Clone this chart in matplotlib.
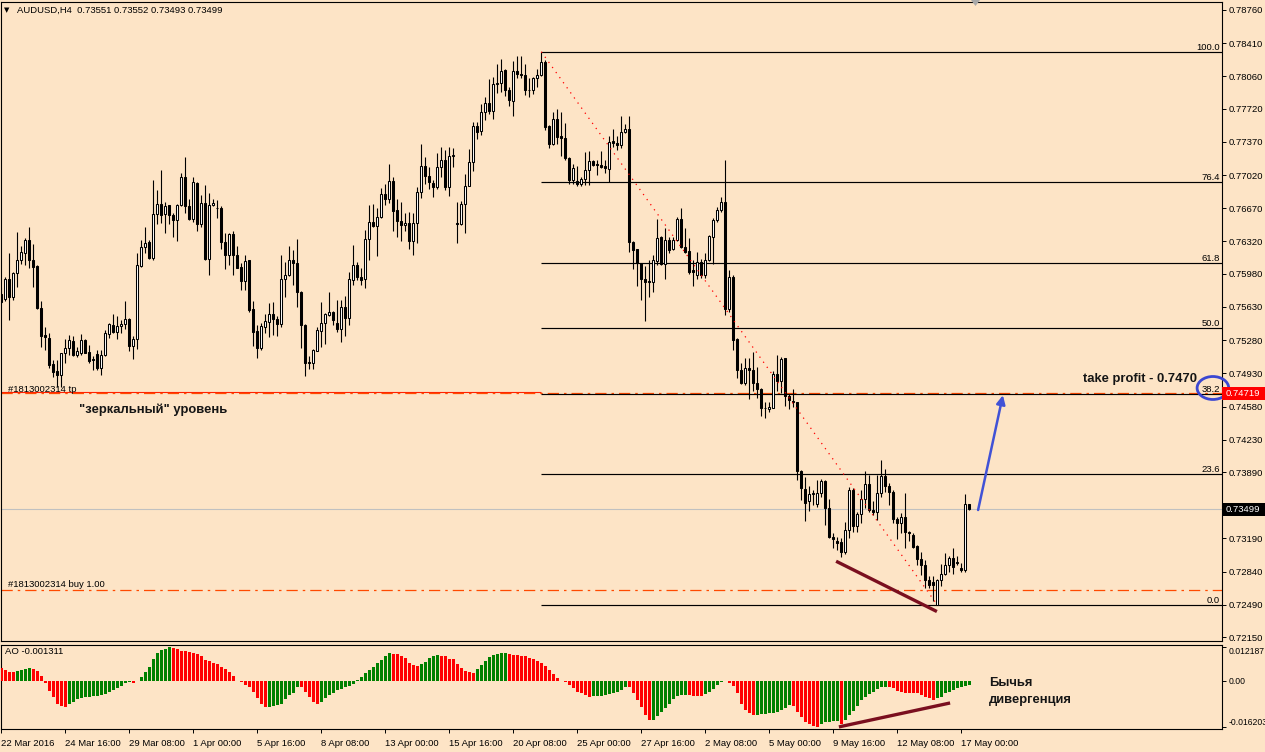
import matplotlib
matplotlib.use("Agg")
import matplotlib.pyplot as plt
import matplotlib.transforms as mtrans
from matplotlib.patches import Rectangle, Ellipse, Polygon
import numpy as np

plt.rcParams['font.family'] = ['Liberation Sans', 'DejaVu Sans']

# ------------------------------------------------------------------ data
opens = [
0.7577, 0.7571, 0.7592, 0.7573, 0.7599, 0.7612, 0.7620, 0.7634, 0.7613, 0.7606,
0.7562, 0.7533, 0.7530, 0.7503, 0.7495, 0.7491, 0.7514, 0.7520, 0.7527, 0.7512,
0.7515, 0.7528, 0.7516, 0.7508, 0.7513, 0.7499, 0.7512, 0.7535, 0.7544, 0.7537,
0.7543, 0.7545, 0.7550, 0.7522, 0.7529, 0.7606, 0.7626, 0.7631, 0.7615, 0.7661,
0.7671, 0.7661, 0.7670, 0.7660, 0.7655, 0.7670, 0.7700, 0.7669, 0.7656, 0.7694,
0.7650, 0.7673, 0.7614, 0.7670, 0.7667, 0.7667, 0.7631, 0.7618, 0.7640, 0.7618,
0.7605, 0.7590, 0.7612, 0.7561, 0.7538, 0.7520, 0.7542, 0.7547, 0.7556, 0.7550,
0.7545, 0.7593, 0.7597, 0.7613, 0.7609, 0.7579, 0.7544, 0.7505, 0.7504, 0.7517,
0.7538, 0.7546, 0.7555, 0.7558, 0.7546, 0.7540, 0.7563, 0.7551, 0.7591, 0.7607,
0.7595, 0.7592, 0.7635, 0.7653, 0.7648, 0.7658, 0.7682, 0.7677, 0.7696, 0.7665,
0.7654, 0.7649, 0.7651, 0.7632, 0.7651, 0.7684, 0.7712, 0.7701, 0.7694, 0.7689,
0.7710, 0.7718, 0.7689, 0.7722, 0.7651, 0.7650, 0.7672, 0.7691, 0.7716, 0.7754,
0.7748, 0.7768, 0.7778, 0.7770, 0.7798, 0.7799, 0.7813, 0.7792, 0.7780, 0.7812,
0.7809, 0.7808, 0.7792, 0.7792, 0.7804, 0.7807, 0.7821, 0.7754, 0.7735, 0.7761,
0.7743, 0.7741, 0.7720, 0.7697, 0.7696, 0.7693, 0.7698, 0.7707, 0.7717, 0.7714,
0.7713, 0.7712, 0.7708, 0.7738, 0.7736, 0.7734, 0.7747, 0.7751, 0.7631, 0.7624,
0.7609, 0.7593, 0.7590, 0.7589, 0.7611, 0.7637, 0.7608, 0.7634, 0.7624, 0.7634,
0.7656, 0.7626, 0.7622, 0.7602, 0.7597, 0.7610, 0.7597, 0.7612, 0.7637, 0.7655,
0.7665, 0.7674, 0.7561, 0.7595, 0.7529, 0.7497, 0.7483, 0.7499, 0.7497, 0.7483,
0.7477, 0.7457, 0.7455, 0.7457, 0.7492, 0.7485, 0.7509, 0.7469, 0.7464, 0.7463,
0.7390, 0.7371, 0.7358, 0.7366, 0.7355, 0.7367, 0.7380, 0.7351, 0.7321, 0.7316,
0.7315, 0.7305, 0.7328, 0.7370, 0.7332, 0.7345, 0.7361, 0.7376, 0.7349, 0.7347,
0.7367, 0.7385, 0.7374, 0.7368, 0.7340, 0.7335, 0.7342, 0.7326, 0.7323, 0.7311,
0.7297, 0.7291, 0.7275, 0.7273, 0.7249, 0.7275, 0.7282, 0.7291, 0.7298, 0.7294,
0.7288, 0.7286, 0.73551]

highs = [
0.7584, 0.7595, 0.7620, 0.7600, 0.7642, 0.7627, 0.7636, 0.7647, 0.7629, 0.7607,
0.7569, 0.7542, 0.7536, 0.7507, 0.7507, 0.7514, 0.7529, 0.7533, 0.7532, 0.7521,
0.7535, 0.7529, 0.7523, 0.7511, 0.7518, 0.7518, 0.7539, 0.7546, 0.7556, 0.7553,
0.7549, 0.7569, 0.7551, 0.7532, 0.7620, 0.7634, 0.7647, 0.7634, 0.7697, 0.7686,
0.7707, 0.7674, 0.7670, 0.7662, 0.7671, 0.7704, 0.7721, 0.7677, 0.7700, 0.7695,
0.7681, 0.7692, 0.7683, 0.7677, 0.7676, 0.7669, 0.7641, 0.7641, 0.7643, 0.7627,
0.7609, 0.7618, 0.7613, 0.7569, 0.7544, 0.7546, 0.7556, 0.7567, 0.7568, 0.7554,
0.7618, 0.7610, 0.7627, 0.7623, 0.7635, 0.7580, 0.7545, 0.7511, 0.7519, 0.7542,
0.7568, 0.7557, 0.7579, 0.7559, 0.7570, 0.7570, 0.7575, 0.7600, 0.7628, 0.7610,
0.7604, 0.7644, 0.7670, 0.7672, 0.7667, 0.7688, 0.7693, 0.7714, 0.7700, 0.7677,
0.7674, 0.7662, 0.7663, 0.7662, 0.7689, 0.7735, 0.7721, 0.7710, 0.7697, 0.7725,
0.7732, 0.7728, 0.7732, 0.7731, 0.7674, 0.7675, 0.7703, 0.7729, 0.7758, 0.7758,
0.7777, 0.7784, 0.7803, 0.7805, 0.7819, 0.7824, 0.7814, 0.7795, 0.7822, 0.7827,
0.7827, 0.7819, 0.7804, 0.7805, 0.7814, 0.7832, 0.7823, 0.7755, 0.7769, 0.7772,
0.7769, 0.7757, 0.7721, 0.7714, 0.7712, 0.7700, 0.7726, 0.7727, 0.7718, 0.7718,
0.7727, 0.7718, 0.7743, 0.7751, 0.7743, 0.7764, 0.7756, 0.7764, 0.7632, 0.7624,
0.7609, 0.7606, 0.7612, 0.7618, 0.7656, 0.7638, 0.7646, 0.7637, 0.7637, 0.7658,
0.7667, 0.7646, 0.7636, 0.7613, 0.7621, 0.7614, 0.7620, 0.7639, 0.7657, 0.7668,
0.7679, 0.7718, 0.7602, 0.7597, 0.7530, 0.7504, 0.7509, 0.7509, 0.7516, 0.7500,
0.7478, 0.7463, 0.7463, 0.7495, 0.7512, 0.7510, 0.7509, 0.7471, 0.7477, 0.7463,
0.7391, 0.7384, 0.7374, 0.7370, 0.7381, 0.7382, 0.7381, 0.7361, 0.7325, 0.7321,
0.7319, 0.7336, 0.7373, 0.7372, 0.7347, 0.7370, 0.7390, 0.7386, 0.7358, 0.7386,
0.7402, 0.7392, 0.7377, 0.7370, 0.7342, 0.7346, 0.7367, 0.7327, 0.7325, 0.7312,
0.7305, 0.7296, 0.7279, 0.7279, 0.7276, 0.7292, 0.7304, 0.7301, 0.7309, 0.7300,
0.7293, 0.7366, 0.73552]

lows = [
0.7567, 0.7569, 0.7549, 0.7570, 0.7584, 0.7608, 0.7607, 0.7604, 0.7584, 0.7561,
0.7521, 0.7518, 0.7499, 0.7489, 0.7479, 0.7479, 0.7504, 0.7512, 0.7511, 0.7510,
0.7512, 0.7514, 0.7504, 0.7497, 0.7497, 0.7491, 0.7511, 0.7530, 0.7536, 0.7529,
0.7536, 0.7540, 0.7517, 0.7508, 0.7519, 0.7605, 0.7620, 0.7614, 0.7613, 0.7650,
0.7652, 0.7641, 0.7650, 0.7637, 0.7633, 0.7669, 0.7662, 0.7655, 0.7653, 0.7643,
0.7647, 0.7613, 0.7597, 0.7669, 0.7657, 0.7624, 0.7603, 0.7607, 0.7597, 0.7604,
0.7581, 0.7581, 0.7558, 0.7522, 0.7509, 0.7518, 0.7536, 0.7531, 0.7533, 0.7532,
0.7542, 0.7574, 0.7596, 0.7586, 0.7563, 0.7520, 0.7490, 0.7498, 0.7498, 0.7517,
0.7521, 0.7524, 0.7553, 0.7544, 0.7537, 0.7526, 0.7532, 0.7544, 0.7586, 0.7591,
0.7586, 0.7583, 0.7612, 0.7647, 0.7617, 0.7657, 0.7670, 0.7673, 0.7643, 0.7637,
0.7632, 0.7643, 0.7624, 0.7618, 0.7630, 0.7678, 0.7693, 0.7687, 0.7679, 0.7687,
0.7700, 0.7686, 0.7680, 0.7711, 0.7630, 0.7649, 0.7641, 0.7690, 0.7706, 0.7740,
0.7744, 0.7760, 0.7766, 0.7761, 0.7788, 0.7790, 0.7785, 0.7775, 0.7764, 0.7804,
0.7804, 0.7786, 0.7784, 0.7787, 0.7795, 0.7806, 0.7749, 0.7731, 0.7734, 0.7735,
0.7722, 0.7718, 0.7693, 0.7693, 0.7690, 0.7690, 0.7692, 0.7692, 0.7712, 0.7702,
0.7709, 0.7704, 0.7695, 0.7732, 0.7728, 0.7731, 0.7746, 0.7621, 0.7603, 0.7585,
0.7570, 0.7548, 0.7573, 0.7579, 0.7607, 0.7607, 0.7592, 0.7620, 0.7623, 0.7632,
0.7625, 0.7620, 0.7598, 0.7585, 0.7592, 0.7594, 0.7594, 0.7611, 0.7608, 0.7653,
0.7663, 0.7555, 0.7558, 0.7518, 0.7488, 0.7482, 0.7481, 0.7466, 0.7474, 0.7467,
0.7448, 0.7446, 0.7452, 0.7457, 0.7474, 0.7472, 0.7459, 0.7455, 0.7458, 0.7381,
0.7360, 0.7337, 0.7348, 0.7354, 0.7352, 0.7363, 0.7333, 0.7319, 0.7309, 0.7307,
0.7299, 0.7303, 0.7319, 0.7326, 0.7326, 0.7335, 0.7351, 0.7347, 0.7344, 0.7338,
0.7363, 0.7368, 0.7354, 0.7335, 0.7318, 0.7325, 0.7309, 0.7316, 0.7309, 0.7291,
0.7281, 0.7267, 0.7267, 0.7253, 0.7249, 0.7269, 0.7281, 0.7284, 0.7282, 0.7291,
0.7284, 0.7284, 0.73493]

closes = [
0.7568, 0.7592, 0.7573, 0.7599, 0.7612, 0.7621, 0.7634, 0.7613, 0.7605, 0.7562,
0.7532, 0.7531, 0.7502, 0.7494, 0.7491, 0.7514, 0.7520, 0.7528, 0.7512, 0.7517,
0.7528, 0.7515, 0.7506, 0.7507, 0.7499, 0.7512, 0.7536, 0.7545, 0.7537, 0.7543,
0.7545, 0.7550, 0.7522, 0.7529, 0.7607, 0.7626, 0.7630, 0.7615, 0.7661, 0.7671,
0.7660, 0.7669, 0.7660, 0.7655, 0.7670, 0.7700, 0.7669, 0.7656, 0.7695, 0.7650,
0.7673, 0.7614, 0.7670, 0.7673, 0.7667, 0.7631, 0.7618, 0.7640, 0.7618, 0.7604,
0.7590, 0.7611, 0.7560, 0.7537, 0.7520, 0.7543, 0.7548, 0.7556, 0.7550, 0.7545,
0.7592, 0.7597, 0.7613, 0.7609, 0.7579, 0.7544, 0.7504, 0.7504, 0.7518, 0.7539,
0.7546, 0.7556, 0.7558, 0.7549, 0.7540, 0.7563, 0.7551, 0.7592, 0.7607, 0.7595,
0.7591, 0.7635, 0.7653, 0.7648, 0.7658, 0.7682, 0.7677, 0.7696, 0.7664, 0.7654,
0.7649, 0.7651, 0.7632, 0.7651, 0.7684, 0.7712, 0.7701, 0.7695, 0.7689, 0.7710,
0.7718, 0.7689, 0.7722, 0.7723, 0.7650, 0.7672, 0.7691, 0.7716, 0.7754, 0.7747,
0.7768, 0.7778, 0.7770, 0.7798, 0.7799, 0.7812, 0.7792, 0.7781, 0.7812, 0.7809,
0.7808, 0.7792, 0.7792, 0.7804, 0.7807, 0.7821, 0.7753, 0.7735, 0.7761, 0.7742,
0.7741, 0.7720, 0.7697, 0.7709, 0.7693, 0.7698, 0.7707, 0.7717, 0.7713, 0.7713,
0.7711, 0.7709, 0.7737, 0.7736, 0.7734, 0.7747, 0.7751, 0.7631, 0.7623, 0.7609,
0.7592, 0.7589, 0.7589, 0.7612, 0.7636, 0.7608, 0.7634, 0.7623, 0.7634, 0.7656,
0.7626, 0.7621, 0.7600, 0.7600, 0.7610, 0.7597, 0.7612, 0.7638, 0.7655, 0.7665,
0.7674, 0.7561, 0.7595, 0.7528, 0.7497, 0.7483, 0.7499, 0.7497, 0.7483, 0.7477,
0.7457, 0.7456, 0.7458, 0.7492, 0.7485, 0.7508, 0.7469, 0.7465, 0.7463, 0.7390,
0.7372, 0.7356, 0.7366, 0.7367, 0.7367, 0.7380, 0.7351, 0.7321, 0.7318, 0.7314,
0.7305, 0.7328, 0.7370, 0.7332, 0.7345, 0.7361, 0.7376, 0.7349, 0.7347, 0.7367,
0.7385, 0.7374, 0.7368, 0.7340, 0.7335, 0.7342, 0.7326, 0.7325, 0.7310, 0.7297,
0.7291, 0.7275, 0.7270, 0.7270, 0.7275, 0.7282, 0.7291, 0.7298, 0.7289, 0.7293,
0.7286, 0.7355, 0.73499]

ao_values = [
0.0045, 0.0039, 0.0033, 0.0031, 0.0035, 0.0039, 0.0043, 0.0045, 0.0044, 0.0035,
0.0018, -0.0008, -0.0034, -0.0056, -0.0080, -0.0089, -0.0091, -0.0081, -0.0073, -0.0065,
-0.0061, -0.0058, -0.0056, -0.0055, -0.0053, -0.0051, -0.0046, -0.0040, -0.0032, -0.0024,
-0.0017, -0.0008, -0.0004, -0.0006, -0.0001, 0.0015, 0.0031, 0.0048, 0.0078, 0.0100,
0.0110, 0.0114, 0.012187, 0.0118, 0.0112, 0.0107, 0.0106, 0.0104, 0.0100, 0.0096,
0.0088, 0.0075, 0.0070, 0.0063, 0.0060, 0.0051, 0.0041, 0.0031, 0.0019, -0.0001,
-0.0004, -0.0014, -0.0022, -0.0038, -0.0061, -0.0080, -0.0092, -0.0091, -0.0090, -0.0085,
-0.0080, -0.0065, -0.0051, -0.0041, -0.0020, -0.0021, -0.0038, -0.0058, -0.0073, -0.0080,
-0.0076, -0.0061, -0.0049, -0.0041, -0.0032, -0.0028, -0.0023, -0.0018, -0.0011, 0.0003,
0.0015, 0.0030, 0.0039, 0.0051, 0.0063, 0.0075, 0.0087, 0.0098, 0.0097, 0.0096,
0.0088, 0.0080, 0.0065, 0.0056, 0.0055, 0.0060, 0.0067, 0.0080, 0.0087, 0.0092,
0.0090, 0.0087, 0.0078, 0.0077, 0.0060, 0.0045, 0.0035, 0.0031, 0.0027, 0.0042,
0.0056, 0.0072, 0.0084, 0.0091, 0.0096, 0.0098, 0.0099, 0.0096, 0.0094, 0.0092,
0.0088, 0.0087, 0.0080, 0.0078, 0.0072, 0.0065, 0.0053, 0.0039, 0.0024, 0.0009,
0.0001, -0.0005, -0.0014, -0.0026, -0.0038, -0.0044, -0.0049, -0.0056, -0.0055, -0.0053,
-0.0052, -0.0049, -0.0047, -0.0044, -0.0038, -0.0032, -0.0020, -0.0021, -0.0041, -0.0067,
-0.0091, -0.0120, -0.0139, -0.0138, -0.0124, -0.0109, -0.0097, -0.0080, -0.0065, -0.0053,
-0.0050, -0.0049, -0.0050, -0.0052, -0.0053, -0.0054, -0.0047, -0.0038, -0.0029, -0.0014,
-0.0004, -0.0001, -0.0006, -0.0017, -0.0044, -0.0080, -0.0103, -0.0115, -0.0120, -0.0119,
-0.0117, -0.0116, -0.0115, -0.0114, -0.0109, -0.0103, -0.0097, -0.0086, -0.0088, -0.0109,
-0.0129, -0.0144, -0.0152, -0.0160, -0.016203, -0.0152, -0.0147, -0.0144, -0.0143, -0.0142,
-0.0151, -0.0139, -0.0120, -0.0105, -0.0089, -0.0069, -0.0056, -0.0046, -0.0038, -0.0029,
-0.0023, -0.0020, -0.0021, -0.0026, -0.0035, -0.0040, -0.0041, -0.0042, -0.0043, -0.0044,
-0.0049, -0.0056, -0.0061, -0.0068, -0.0061, -0.0056, -0.0044, -0.0038, -0.0032, -0.0026,
-0.0020, -0.0016, -0.001311]

time_labels = ["22 Mar 2016", "24 Mar 16:00", "29 Mar 08:00", "1 Apr 00:00",
               "5 Apr 16:00", "8 Apr 08:00", "13 Apr 00:00", "15 Apr 16:00",
               "20 Apr 08:00", "25 Apr 00:00", "27 Apr 16:00", "2 May 08:00",
               "5 May 00:00", "9 May 16:00", "12 May 08:00", "17 May 00:00"]
time_label_bars = [0, 16, 32, 48, 64, 80, 96, 112, 128, 144, 160, 176, 192, 208, 224, 240]

# scale labels (0.73540 is hidden under the current-price tag)
price_ticks = [0.78760, 0.78410, 0.78060, 0.77720, 0.77370, 0.77020, 0.76670,
               0.76320, 0.75980, 0.75630, 0.75280, 0.74930, 0.74580, 0.74230,
               0.73890, 0.73190, 0.72840, 0.72490, 0.72150]

fib_ratios = [1.0, 0.764, 0.618, 0.5, 0.382, 0.236, 0.0]
fib_names = ["100.0", "76.4", "61.8", "50.0", "38.2", "23.6", "0.0"]
fib_high_bar = 135
fib_low_bar = 234

tp_price = 0.74719
buy_price = 0.72644
last_price = 0.73499

ao_ticks = [0.012187, 0.0, -0.016203]
ao_tick_labels = ["0.012187", "0.00", "-0.016203"]

# hand-drawn annotation anchors (bar index, value)
div_price_bars = [208.7, 233.9]
div_price_vals = [0.7295, 0.7242]
div_ao_bars = [209.4, 237.2]
div_ao_vals = [-0.0163, -0.0078]
arrow_bars = [244.2, 250.4]
arrow_vals = [0.7349, 0.7470]

# ------------------------------------------------------------------ style
BG = "#FDE4C6"
W, H = 1265, 752
fs = 6.8

fig = plt.figure(figsize=(W / 100, H / 100), dpi=100, facecolor=BG)

main_top, main_bot = 2, 641
ao_top, ao_bot = 645, 729
ax_left, ax_right = 1, 1222

ax = fig.add_axes([ax_left / W, (H - main_bot) / H, (ax_right - ax_left) / W, (main_bot - main_top) / H])
ax2 = fig.add_axes([ax_left / W, (H - ao_bot) / H, (ax_right - ax_left) / W, (ao_bot - ao_top) / H])

# x scale: bar k is drawn at pixel 1.3 + 4k
xl = ((ax_left - 1.3) / 4, (ax_right - 1.3) / 4)
for a in (ax, ax2):
    a.set_facecolor(BG)
    a.set_xlim(*xl)
    for s in a.spines.values():
        s.set_color("black")
        s.set_linewidth(0.8)

ax.set_ylim(0.721093, 0.788443)
ax2.set_ylim(-0.01704, 0.01278)

# ------------------------------------------------------------------ candles
o = np.array(opens); h = np.array(highs); l = np.array(lows); c = np.array(closes)
x = np.arange(len(o))
bull = c >= o
ax.vlines(x, l, h, color="black", lw=0.8, zorder=4)
ax.bar(x, np.abs(c - o), bottom=np.minimum(o, c), width=0.5,
       color=np.where(bull, "white", "black"), edgecolor="black", linewidth=0.75, zorder=5)

# ------------------------------------------------------------------ AO histogram
ao = np.array(ao_values)
rising = np.concatenate([[False], ao[1:] > ao[:-1]])
ax2.bar(x, ao, width=0.72, color=np.where(rising, "#008000", "#FF0000"), linewidth=0, zorder=3)

# ------------------------------------------------------------------ fibonacci
fhi = highs[fib_high_bar]
flo = lows[fib_low_bar]
ytrans = mtrans.blended_transform_factory(ax.transAxes, ax.transData)
for r, name in zip(fib_ratios, fib_names):
    lvl = flo + r * (fhi - flo)
    ax.hlines(lvl, fib_high_bar, xl[1], color="black", lw=0.85, zorder=3)
    ax.text(0.9985, lvl, name, transform=mtrans.offset_copy(ytrans, fig, y=2, units="dots"),
            ha="right", va="baseline", fontsize=fs, color="black", zorder=6)
ax.plot([fib_high_bar, fib_low_bar], [fhi, flo], color="red", lw=0.9,
        linestyle=(0, (1, 4)), zorder=6)

# ------------------------------------------------------------------ level lines
ax.axhline(last_price, color="#C0C0C0", lw=0.8, zorder=2)
ax.hlines(tp_price + 0.0001, xl[0], fib_high_bar, color="#FF2000", lw=0.8, zorder=2)
for p in (tp_price, buy_price):
    ax.axhline(p, color="#FF4A00", lw=0.9, linestyle=(0, (9, 4, 2, 4)), zorder=2)

# order labels
ax.text(7 / 1221, tp_price, "#1813002314 tp", transform=mtrans.offset_copy(ytrans, fig, y=1.5, units="dots"),
        fontsize=fs, va="baseline", ha="left", color="black")
ax.text(7 / 1221, buy_price, "#1813002314 buy 1.00", transform=mtrans.offset_copy(ytrans, fig, y=3, units="dots"),
        fontsize=fs, va="baseline", ha="left", color="black")

# ------------------------------------------------------------------ annotations
ax.plot(div_price_bars, div_price_vals, color="#7A0F1F", lw=2.4, solid_capstyle="butt", zorder=7)
ax2.plot(div_ao_bars, div_ao_vals, color="#7A0F1F", lw=2.4, solid_capstyle="butt", zorder=7)
ax.annotate("", xy=(arrow_bars[1], arrow_vals[1]), xytext=(arrow_bars[0], arrow_vals[0]),
            arrowprops=dict(arrowstyle="-|>", color="#4152D6", lw=1.8, mutation_scale=13,
                            shrinkA=0, shrinkB=0), zorder=8)
ax.add_patch(Ellipse((302.9, 0.74776), width=7.9, height=0.00242, fill=False,
                     edgecolor="#3B47D2", lw=2.0, clip_on=False, zorder=9))

def mpos(px, py):
    return ((px - ax_left) / (ax_right - ax_left), (main_bot - py) / (main_bot - main_top))

def apos(px, py):
    return ((px - ax_left) / (ax_right - ax_left), (ao_bot - py) / (ao_bot - ao_top))

bold = dict(fontsize=9.4, fontweight="bold", color="#151515", va="center", ha="left")
ax.text(*mpos(1083, 379), "take profit - 0.7470", transform=ax.transAxes, zorder=9, **bold)
ax.text(*mpos(79, 410), "\"зеркальный\" уровень", transform=ax.transAxes, zorder=9, **bold)
ax2.text(*apos(989, 683), "Бычья", transform=ax2.transAxes, clip_on=False, zorder=9, **bold)
ax2.text(*apos(989, 700), "дивергенция", transform=ax2.transAxes, clip_on=False, zorder=9, **bold)

# header labels
ax.text(*mpos(4, 10), "▼", transform=ax.transAxes, fontsize=5, va="center", ha="left",
        family="DejaVu Sans")
ax.text(*mpos(17, 10), "AUDUSD,H4  0.73551 0.73552 0.73493 0.73499", transform=ax.transAxes,
        fontsize=fs, va="center", ha="left")
ax2.text(*apos(5, 651), "AO -0.001311", transform=ax2.transAxes, fontsize=fs, va="center", ha="left")

# ------------------------------------------------------------------ axes ticks
ax.set_xticks([])
ax.yaxis.tick_right()
ax.set_yticks(price_ticks)
ax.set_yticklabels([f"{v:.5f}" for v in price_ticks])
ax.tick_params(axis="y", direction="out", length=3, width=0.7, pad=2, labelsize=fs, colors="black")

ax2.yaxis.tick_right()
ax2.set_yticks(ao_ticks)
ax2.set_yticklabels(ao_tick_labels)
ax2.tick_params(axis="y", direction="out", length=3, width=0.7, pad=1.5, labelsize=6.2)
tl = ax2.get_yticklabels()
tl[0].set_va("top")
tl[2].set_va("bottom")

ax2.set_xticks(time_label_bars)
ax2.set_xticklabels(time_labels, ha="left")
ax2.tick_params(axis="x", direction="out", length=3, width=0.7, pad=4, labelsize=fs)

# price tags on the scale
box_h = 13 * (0.788443 - 0.721093) / (main_bot - main_top)
for p, col in ((tp_price, "#FF0000"), (last_price, "#000000")):
    ax.add_patch(Rectangle((1.0, p - box_h / 2), (W - ax_right) / (ax_right - ax_left), box_h,
                           transform=ytrans, facecolor=col, edgecolor="none", clip_on=False, zorder=10))
    ax.text(1.0 + 4 / 1221, p, f"{p:.5f}", transform=ytrans, color="white", fontsize=fs,
            va="center", ha="left", clip_on=False, zorder=11)

# chart-shift marker
fig.patches.append(Polygon([[971 / W, 1.0], [980 / W, 1.0], [975.5 / W, 1 - 6 / H]], closed=True,
                           transform=fig.transFigure, facecolor="#A8A8A8", edgecolor="none"))

fig.savefig("out.png", dpi=100, facecolor=BG)
